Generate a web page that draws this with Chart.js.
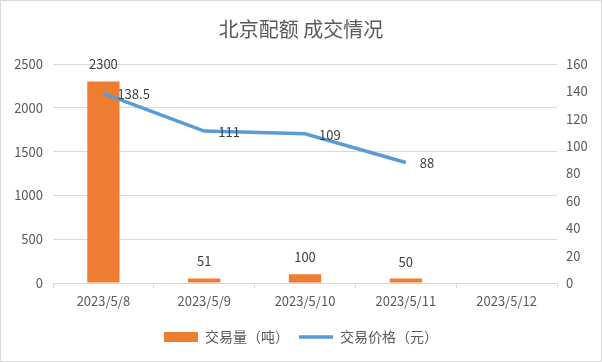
<!DOCTYPE html>
<html>
<head>
<meta charset="utf-8">
<script src="https://cdn.jsdelivr.net/npm/chart.js@4"></script>
<style>
  html, body { margin: 0; padding: 0; background: #fff; }
  #wrap { width: 602px; height: 362px; }
</style>
</head>
<body>
<div id="wrap"><canvas id="grafico"></canvas></div>
<script>
const titulo = "北京配额 成交情况";
const datas = ["2023/5/8", "2023/5/9", "2023/5/10", "2023/5/11", "2023/5/12"];
const volume = [2300, 51, 100, 50, null];
const preco = [138.5, 111, 109, 88, null];
const nomeVolume = "交易量（吨）";
const nomePreco = "交易价格（元）";

const fonte = '"Noto Sans CJK SC", "Noto Sans", sans-serif';
const corTexto = "#595959";
const corGrade = "#D9D9D9";

// borda e fundo do gráfico
const moldura = {
  id: "moldura",
  beforeDraw(chart) {
    const ctx = chart.ctx;
    ctx.save();
    ctx.fillStyle = "#fff";
    ctx.fillRect(0, 0, chart.width, chart.height);
    ctx.strokeStyle = corGrade;
    ctx.lineWidth = 1;
    ctx.strokeRect(0.5, 0.5, chart.width - 1, chart.height - 1);
    ctx.restore();
  }
};

// rótulos de valores
const rotulos = {
  id: "rotulos",
  afterDatasetsDraw(chart) {
    const ctx = chart.ctx;
    ctx.save();
    ctx.font = "13px " + fonte;
    ctx.fillStyle = "#404040";
    ctx.textBaseline = "middle";
    chart.data.datasets.forEach((ds, i) => {
      const meta = chart.getDatasetMeta(i);
      meta.data.forEach((el, j) => {
        const v = ds.data[j];
        if (v === null || v === undefined) return;
        if (ds.type === "bar") {
          ctx.textAlign = "center";
          ctx.fillText(String(v), el.x, el.y - 17);
        } else {
          ctx.textAlign = "left";
          ctx.fillText(String(v), el.x + 14, el.y + 1);
        }
      });
    });
    ctx.restore();
  }
};

const ctx = document.getElementById("grafico").getContext("2d");
new Chart(ctx, {
  data: {
    labels: datas,
    datasets: [
      {
        type: "bar",
        label: nomeVolume,
        data: volume,
        backgroundColor: "#ED7D31",
        yAxisID: "y",
        barPercentage: 0.32,
        categoryPercentage: 1,
        order: 1
      },
      {
        type: "line",
        label: nomePreco,
        data: preco,
        borderColor: "#5B9BD5",
        backgroundColor: "#5B9BD5",
        borderWidth: 3.5,
        pointRadius: 0,
        tension: 0,
        yAxisID: "y1",
        order: 0
      }
    ]
  },
  options: {
    responsive: true,
    maintainAspectRatio: false,
    animation: false,
    layout: { padding: { left: 0, right: 0, top: 0, bottom: 8 } },
    plugins: {
      title: {
        display: true,
        text: titulo,
        color: corTexto,
        font: { family: fonte, size: 20, weight: "normal" },
        padding: { top: 17, bottom: 23 }
      },
      legend: {
        position: "bottom",
        labels: {
          color: corTexto,
          font: { family: fonte, size: 14 },
          usePointStyle: true,
          boxHeight: 10,
          pointStyleWidth: 34,
          padding: 10,
          sort: (a, b) => a.datasetIndex - b.datasetIndex,
          generateLabels(chart) {
            const itens = Chart.defaults.plugins.legend.labels.generateLabels(chart);
            itens.forEach(it => {
              const ds = chart.data.datasets[it.datasetIndex];
              if (ds.type === "bar") {
                it.pointStyle = "rect";
                it.lineWidth = 0;
                it.fillStyle = ds.backgroundColor;
              } else {
                it.pointStyle = "line";
                it.lineWidth = 3.5;
                it.strokeStyle = ds.borderColor;
              }
            });
            return itens;
          }
        }
      },
      tooltip: { enabled: false }
    },
    scales: {
      x: {
        grid: {
          drawOnChartArea: false,
          drawTicks: true,
          tickLength: 5,
          color: corGrade
        },
        border: { display: true, color: corGrade },
        ticks: {
          color: corTexto,
          font: { family: fonte, size: 13 },
          padding: 5,
          maxRotation: 0
        },
        afterFit(scale) { scale.height = 37; }
      },
      y: {
        position: "left",
        min: 0,
        max: 2500,
        ticks: {
          stepSize: 500,
          color: corTexto,
          font: { family: fonte, size: 13 },
          padding: 10,
          callback: v => String(v)
        },
        grid: { color: corGrade, drawTicks: false },
        border: { display: false },
        afterFit(scale) { scale.width = 53; }
      },
      y1: {
        position: "right",
        min: 0,
        max: 160,
        ticks: {
          stepSize: 20,
          color: corTexto,
          font: { family: fonte, size: 13 },
          padding: 9,
          callback: v => String(v)
        },
        grid: { drawOnChartArea: false, drawTicks: false },
        border: { display: false },
        afterFit(scale) { scale.width = 45; }
      }
    }
  },
  plugins: [moldura, rotulos]
});
</script>
</body>
</html>
